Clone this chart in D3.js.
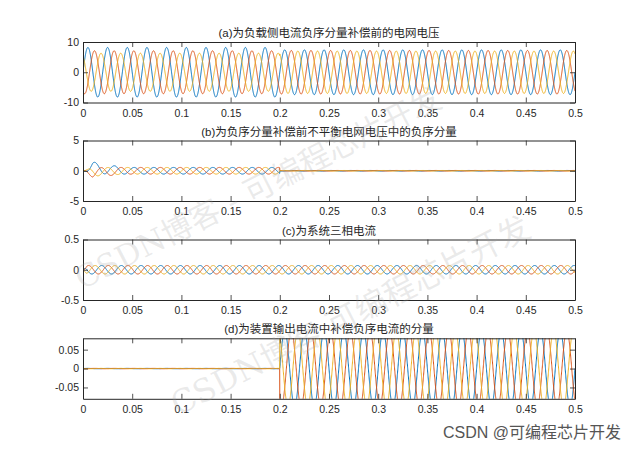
<!DOCTYPE html>
<html><head><meta charset="utf-8">
<script src="https://cdn.jsdelivr.net/npm/d3@7"></script>
<style>
html,body{margin:0;padding:0;background:#fff;}
svg{display:block;}
</style></head>
<body>
<svg id="chart" width="637" height="450"></svg>
<script>
// ---------------- data ----------------
const titles = [
  "(a)为负载侧电流负序分量补偿前的电网电压",
  "(b)为负序分量补偿前不平衡电网电压中的负序分量",
  "(c)为系统三相电流",
  "(d)为装置输出电流中补偿负序电流的分量"
];
const xTicks = [0, 0.05, 0.1, 0.15, 0.2, 0.25, 0.3, 0.35, 0.4, 0.45, 0.5];
const yTicksA = [-10, 0, 10];
const yTicksB = [-5, 0, 5];
const yTicksC = [-0.5, 0, 0.5];
const yTicksD = [-0.05, 0, 0.05];
const yDomainA = [-10, 10];
const yDomainB = [-5, 5];
const yDomainC = [-0.5, 0.5];
const yDomainD = [-0.08, 0.08];
const phaseNames = ["A", "B", "C"];
const gridFreq = 50;                 // Hz, read from ~2.5 cycles per 0.05 s
const phaseShiftDeg = [0, -120, 120]; // three-phase displacement

// envelope knots (time, s) and per-phase peak amplitude
const knotsA = [0, 0.2, 0.2, 0.5];
const ampA_1 = [8.2, 8.2, 7.4, 7.4];
const ampA_2 = [7.1, 7.1, 7.2, 7.2];
const ampA_3 = [6.3, 6.3, 7.0, 7.0];
const startPhaseA = 0;

const knotsB = [0, 0.01, 0.03, 0.05, 0.2, 0.2, 0.5];
const ampB_1 = [0, 0.95, 0.7, 0.55, 0.55, 0.05, 0.05];
const ampB_2 = [0, 0.8, 0.65, 0.55, 0.55, 0.05, 0.05];
const ampB_3 = [0, 0.7, 0.6, 0.55, 0.55, 0.05, 0.05];
const offB_1 = [0, 0.5, 0.15, 0, 0, 0, 0];
const offB_2 = [0, -0.3, -0.1, 0, 0, 0, 0];
const offB_3 = [0, -0.2, -0.05, 0, 0, 0, 0];
const startPhaseB = -126;

const knotsC = [0, 0.004, 0.5];
const ampC_1 = [0, 0.07, 0.07];
const ampC_2 = [0, 0.07, 0.07];
const ampC_3 = [0, 0.07, 0.07];
const startPhaseC = 108;

const knotsD = [0, 0.2, 0.2, 0.5];
const ampD_1 = [0.0005, 0.0005, 0.1, 0.1];
const ampD_2 = [0.0005, 0.0005, 0.1, 0.1];
const ampD_3 = [0.0005, 0.0005, 0.1, 0.1];
const startPhaseD = 0;

const colors = ["#0072BD", "#D95319", "#EDB120"];

// ---------------- build series ----------------
function envStep(knots, vals, t) {
  for (let i = 0; i < knots.length - 1; i++) {
    if (knots[i + 1] === knots[i]) continue;
    if (t >= knots[i] && (t < knots[i + 1] || i === knots.length - 2)) {
      const f = (t - knots[i]) / (knots[i + 1] - knots[i]);
      return vals[i] + f * (vals[i + 1] - vals[i]);
    }
  }
  return vals[vals.length - 1];
}
const dt = 0.0001;
const times = d3.range(0, 0.5 + dt / 2, dt);
function waveSet(knots, amps, offs, startDeg) {
  return amps.map((a, k) => times.map(t => {
    const ph = (2 * Math.PI * gridFreq * t) + (startDeg + phaseShiftDeg[k]) * Math.PI / 180;
    const o = offs ? envStep(knots, offs[k], t) : 0;
    return [t, o + envStep(knots, a, t) * Math.sin(ph)];
  }));
}
const panels = [
  {title: titles[0], yDomain: yDomainA, yTicks: yTicksA, series: waveSet(knotsA, [ampA_1, ampA_2, ampA_3], null, startPhaseA)},
  {title: titles[1], yDomain: yDomainB, yTicks: yTicksB, series: waveSet(knotsB, [ampB_1, ampB_2, ampB_3], [offB_1, offB_2, offB_3], startPhaseB)},
  {title: titles[2], yDomain: yDomainC, yTicks: yTicksC, series: waveSet(knotsC, [ampC_1, ampC_2, ampC_3], null, startPhaseC)},
  {title: titles[3], yDomain: yDomainD, yTicks: yTicksD, series: waveSet(knotsD, [ampD_1, ampD_2, ampD_3], null, startPhaseD)}
];

// ---------------- layout ----------------
const svg = d3.select("#chart");
const left = 83, right = 575;
const tops = [42, 140.5, 239.5, 338.3];
const ph = 60.5;
const axisColor = "#262626";
const fontLatin = "'Liberation Sans', Arial, Helvetica, sans-serif";
const fontCJK = "'Liberation Sans', 'Noto Sans CJK SC', sans-serif";

const x = d3.scaleLinear().domain([0, 0.5]).range([left, right]);
const fmt = d => (d === 0 ? "0" : String(+d.toFixed(3)));

panels.forEach((p, i) => {
  const top = tops[i], bottom = top + ph;
  const y = d3.scaleLinear().domain(p.yDomain).range([bottom, top]);
  const g = svg.append("g");
  const clipId = "clip" + i;
  svg.append("clipPath").attr("id", clipId).append("rect")
    .attr("x", left).attr("y", top).attr("width", right - left).attr("height", ph);

  const line = d3.line().x(d => x(d[0])).y(d => y(d[1]));
  const lg = g.append("g").attr("clip-path", `url(#${clipId})`);
  p.series.forEach((s, k) => {
    lg.append("path").datum(s).attr("d", line)
      .attr("fill", "none").attr("stroke", colors[k]).attr("stroke-width", 1);
  });

  const styleAxis = (sel, labels) => {
    sel.selectAll("path.domain").attr("stroke", axisColor).attr("stroke-width", 1);
    sel.selectAll(".tick line").attr("stroke", axisColor).attr("stroke-width", 0.8);
    sel.selectAll(".tick text").attr("fill", labels ? axisColor : "none")
      .attr("font-family", fontLatin).attr("font-size", 10.5);
  };
  g.append("g").attr("transform", `translate(0,${bottom})`)
    .call(d3.axisBottom(x).tickValues(xTicks).tickFormat(fmt).tickSizeInner(-5).tickSizeOuter(0).tickPadding(7))
    .call(s => styleAxis(s, true));
  g.append("g").attr("transform", `translate(0,${top})`)
    .call(d3.axisTop(x).tickValues(xTicks).tickFormat("").tickSizeInner(-5).tickSizeOuter(0))
    .call(s => styleAxis(s, false));
  g.append("g").attr("transform", `translate(${left},0)`)
    .call(d3.axisLeft(y).tickValues(p.yTicks).tickFormat(fmt).tickSizeInner(-5).tickSizeOuter(0).tickPadding(4))
    .call(s => styleAxis(s, true));
  g.append("g").attr("transform", `translate(${right},0)`)
    .call(d3.axisRight(y).tickValues(p.yTicks).tickFormat("").tickSizeInner(-5).tickSizeOuter(0))
    .call(s => styleAxis(s, false));

  g.append("text").attr("x", (left + right) / 2).attr("y", top - 5)
    .attr("text-anchor", "middle").attr("font-family", fontCJK)
    .attr("font-size", 11.5).attr("fill", axisColor).text(p.title);
});

// ---------------- watermarks ----------------
const wm = svg.append("g").attr("pointer-events", "none");
wm.append("text").attr("transform", "translate(82,290) rotate(-27)")
  .attr("font-family", "'DejaVu Serif', 'Noto Sans CJK SC', serif").attr("font-size", 31)
  .attr("fill", "#a0a0a0").attr("fill-opacity", 0.22).text("CSDN博客 - 可编程芯片开发");
wm.append("text").attr("transform", "translate(178,416) rotate(-27)")
  .attr("font-family", "'DejaVu Serif', 'Noto Sans CJK SC', serif").attr("font-size", 32)
  .attr("fill", "#a0a0a0").attr("fill-opacity", 0.22).text("CSDN博客   可编程芯片开发");
svg.append("text").attr("x", 621).attr("y", 438).attr("text-anchor", "end")
  .attr("font-family", "'Liberation Sans', 'Noto Sans CJK SC', sans-serif").attr("font-size", 16)
  .attr("fill", "#555").text("CSDN @可编程芯片开发");
</script>
</body></html>
